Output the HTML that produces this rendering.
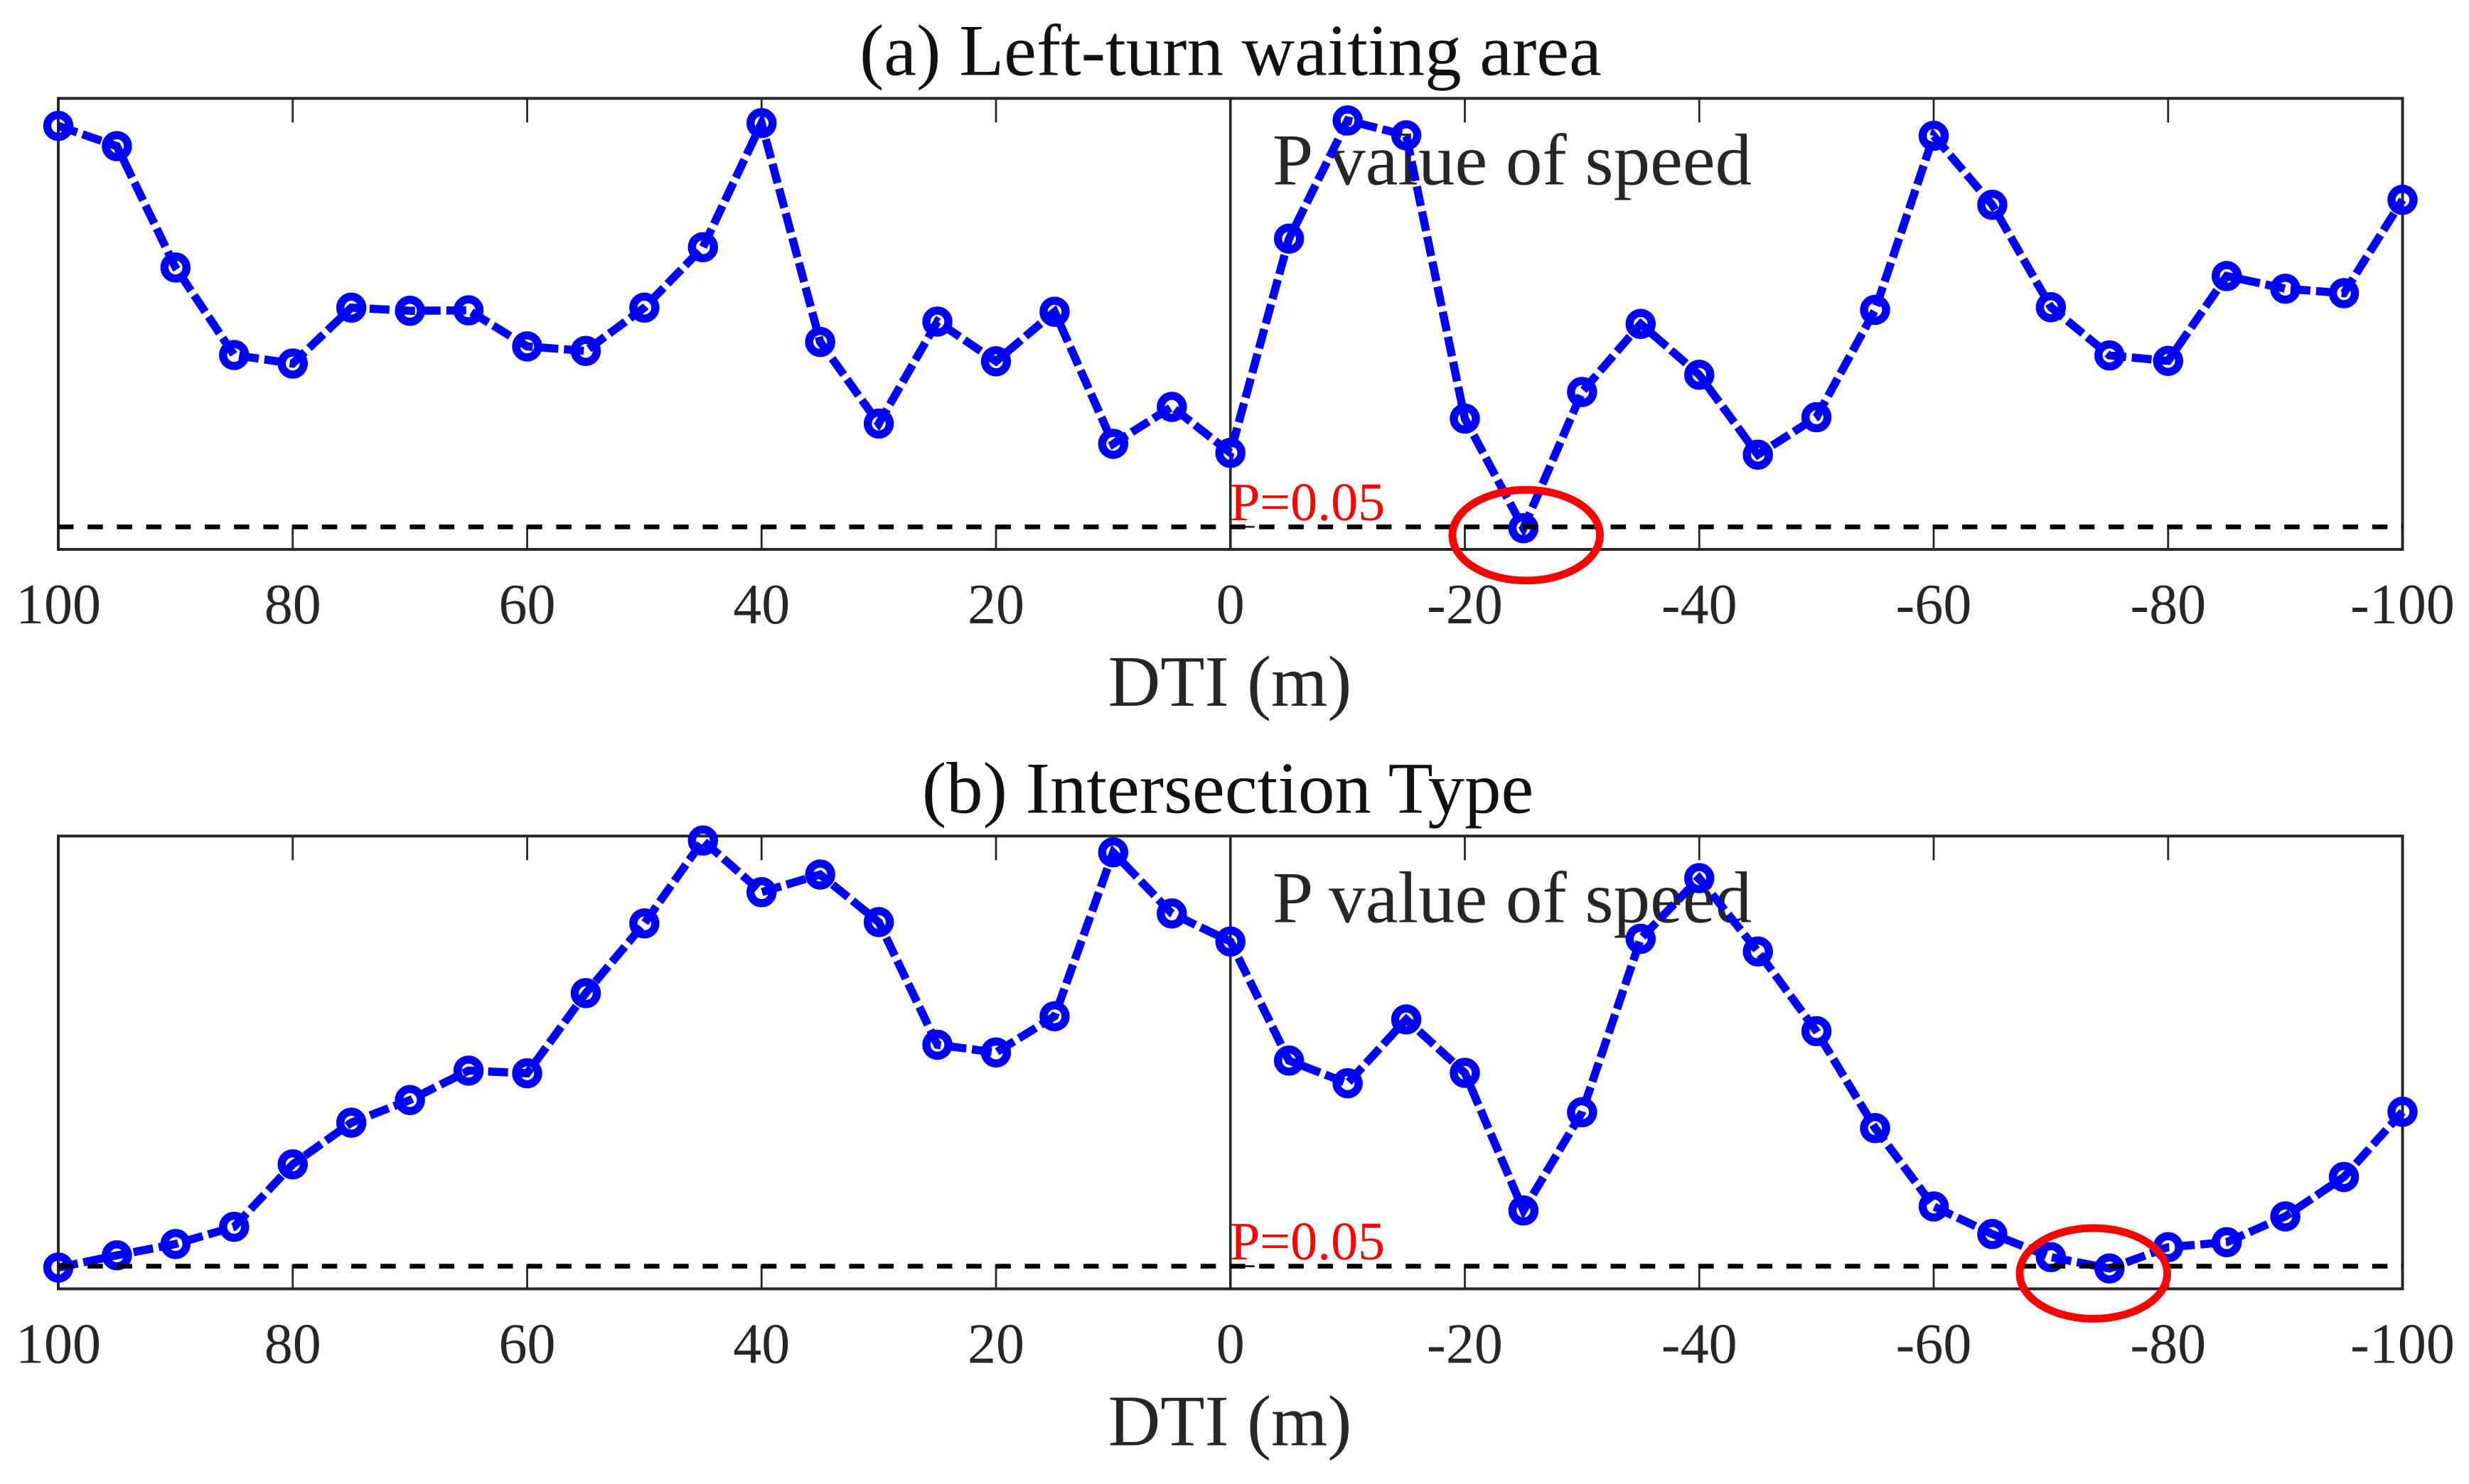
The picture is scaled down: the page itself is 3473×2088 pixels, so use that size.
<!DOCTYPE html>
<html lang="en">
<head>
<meta charset="utf-8">
<title>P value of speed along DTI</title>
<style>
html,body{margin:0;padding:0;background:#fff;}
svg{display:block;font-family:"Liberation Serif",serif;}
</style>
</head>
<body>
<svg id="chart" xmlns="http://www.w3.org/2000/svg" width="3473" height="2088" viewBox="0 0 3473 2088"></svg>
<script>
const distances = [100,95,90,85,80,75,70,65,60,55,50,45,40,35,30,25,20,15,10,5,0,-5,-10,-15,-20,-25,-30,-35,-40,-45,-50,-55,-60,-65,-70,-75,-80,-85,-90,-95,-100];
const pValuesA = [.939,.894,.625,.431,.412,.536,.529,.530,.450,.440,.536,.670,.945,.460,.279,.505,.417,.527,.234,.316,.214,.689,.951,.918,.290,.047,.349,.500,.387,.210,.293,.531,.917,.764,.537,.430,.418,.606,.578,.568,.775];
const pValuesB = [.047,.074,.099,.137,.275,.367,.417,.482,.476,.653,.807,.990,.876,.915,.810,.539,.522,.602,.964,.829,.767,.504,.454,.595,.477,.173,.390,.773,.907,.745,.569,.355,.182,.121,.070,.045,.092,.103,.160,.247,.391];
const xTicks = [100,80,60,40,20,0,-20,-40,-60,-80,-100];
const threshold = 0.05;
const circledA = { dti: -25.23, p: 0.0315 };
const circledB = { dti: -73.63, p: 0.034 };
const titleA = "(a) Left-turn waiting area";
const titleB = "(b) Intersection Type";

const NS = "http://www.w3.org/2000/svg";
const svg = document.getElementById("chart");
const xLeft = 82, xRight = 3379.5;
const xScale = d => (xLeft + xRight) / 2 - d * (xRight - xLeft) / 200;

function mk(parent, tag, attrs, text) {
  const el = document.createElementNS(NS, tag);
  for (const k in attrs) el.setAttribute(k, attrs[k]);
  if (text !== undefined) el.textContent = text;
  parent.appendChild(el);
  return el;
}

function drawPanel(key, top, bottom, values, title, titleX, circled) {
  const yScale = v => bottom - v * (bottom - top);
  const g = mk(svg, "g", {});
  
  

  const t = mk(g, "text", {x: titleX, y: top - 33, "text-anchor": "middle", "font-size": 103, fill: "#111"}, title);
  
  

  const frame = mk(g, "rect", {x: xLeft, y: top, width: xRight - xLeft, height: bottom - top, fill: "#fff", stroke: "#262626", "stroke-width": 4});
  
  

  xTicks.forEach(d => {
    const x = xScale(d);
    const tb = mk(g, "line", {x1: x, x2: x, y1: bottom, y2: bottom - 34, stroke: "#262626", "stroke-width": 2.8});
    
    
    const tt = mk(g, "line", {x1: x, x2: x, y1: top, y2: top + 34, stroke: "#262626", "stroke-width": 2.8});
    
    
    const lab = mk(g, "text", {x: x, y: bottom + 104, "text-anchor": "middle", "font-size": 80, fill: "#262626"}, String(d));
    
    
  });

  const zeroLine = mk(g, "line", {x1: xScale(0), x2: xScale(0), y1: top, y2: bottom, stroke: "#262626", "stroke-width": 3.6});
  
  

  const yTick = mk(g, "line", {x1: xScale(0), x2: xScale(0) + 34, y1: yScale(threshold), y2: yScale(threshold), stroke: "#262626", "stroke-width": 2.8});
  
  

  const axisLabel = mk(g, "text", {x: 1730, y: bottom + 220, "text-anchor": "middle", "font-size": 102, fill: "#262626"}, "DTI (m)");
  
  

  const note = mk(g, "text", {x: 1790, y: top + 121, "font-size": 103, fill: "#262626"}, "P value of speed");
  
  

  const pts = distances.map((d, i) => xScale(d) + "," + yScale(values[i])).join(" ");
  const line = mk(g, "polyline", {points: pts, fill: "none", stroke: "#0000ff", "stroke-width": 11.5, "stroke-dasharray": "28 8", "stroke-linejoin": "miter"});
  
  

  distances.forEach((d, i) => {
    const c = mk(g, "circle", {cx: xScale(d), cy: yScale(values[i]), r: 15.5, fill: "none", stroke: "#0000ff", "stroke-width": 11.5});
    
    
  });

  const dash = mk(g, "line", {x1: xLeft, x2: xRight, y1: yScale(threshold), y2: yScale(threshold), stroke: "#000", "stroke-width": 6.6, "stroke-dasharray": "21.5 19.7"});
  
  

  const pLabel = mk(g, "text", {x: 1730, y: yScale(threshold) - 9.5, "font-size": 76, fill: "#ff0000"}, "P=0.05");
  
  

  const ring = mk(g, "ellipse", {cx: xScale(circled.dti), cy: yScale(circled.p), rx: 103.8, ry: 63.8, fill: "none", stroke: "#ff0000", "stroke-width": 10.8});
  
  
}

drawPanel("a", 138.4, 773, pValuesA, titleA, 1731, circledA);
drawPanel("b", 1176.3, 1813.4, pValuesB, titleB, 1727, circledB);
</script>
</body>
</html>
